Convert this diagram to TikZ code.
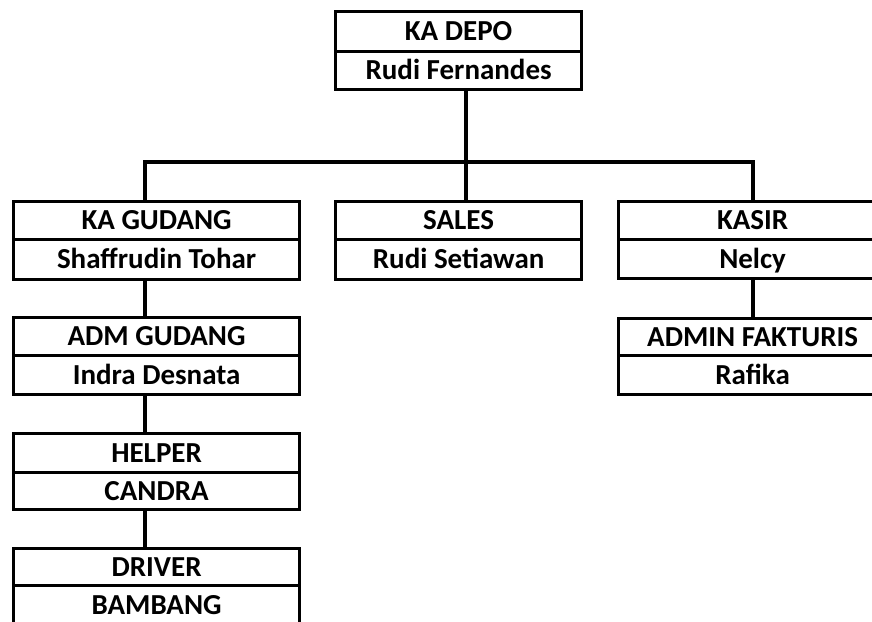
\documentclass[tikz,border=0pt]{standalone}
\usepackage{fontspec}
\setmainfont{Carlito}
\begin{document}
\begin{tikzpicture}[x=1pt,y=-1pt,
  cell/.style={draw=black, line width=3.2pt, inner sep=0pt, anchor=north west,
    text height=20pt, text depth=2pt,
    font=\fontsize{29}{32}\selectfont\bfseries, text=black},
  link/.style={draw=black, line width=3.2pt}]
\path[use as bounding box, clip] (0,0) rectangle (872,621);
\fill[white] (0,0) rectangle (872,621);

% KA DEPO
\node[cell, minimum width=246pt, minimum height=40pt] (depoT) at (334,10) {KA DEPO};
\node[cell, minimum width=246pt, minimum height=38pt] (depoB) at (334,50) {Rudi Fernandes};

% second level
\node[cell, minimum width=286pt, minimum height=38pt] (gudT) at (12,200) {KA GUDANG};
\node[cell, minimum width=286pt, minimum height=40pt] (gudB) at (12,238) {Shaffrudin Tohar};

\node[cell, minimum width=246pt, minimum height=38pt] (salT) at (334,200) {SALES};
\node[cell, minimum width=246pt, minimum height=40pt] (salB) at (334,238) {Rudi Setiawan};

\node[cell, minimum width=268pt, minimum height=38pt] (kasT) at (617,200) {KASIR};
\node[cell, minimum width=268pt, minimum height=39pt] (kasB) at (617,238) {Nelcy};

% warehouse chain
\node[cell, minimum width=286pt, minimum height=38pt] (admT) at (12,316) {ADM GUDANG};
\node[cell, minimum width=286pt, minimum height=39pt] (admB) at (12,354) {Indra Desnata};

\node[cell, minimum width=286pt, minimum height=39pt] (helT) at (12,432) {HELPER};
\node[cell, minimum width=286pt, minimum height=37pt] (helB) at (12,471) {CANDRA};

\node[cell, minimum width=286pt, minimum height=37pt] (drvT) at (12,547) {DRIVER};
\node[cell, minimum width=286pt, minimum height=40pt] (drvB) at (12,584) {BAMBANG};

% cashier chain
\node[cell, minimum width=268pt, minimum height=37pt] (fakT) at (617,317) {ADMIN FAKTURIS};
\node[cell, minimum width=268pt, minimum height=39pt] (fakB) at (617,354) {Rafika};

% trunk lines of the connectors
\coordinate (trunkL) at (145,162);
\coordinate (trunkM) at (466,162);
\coordinate (trunkR) at (753,162);

\draw[link] (depoB.south -| trunkM) -- (trunkM);
\draw[link] (gudT.north -| trunkL) -- (trunkL) -- (trunkR) -- (kasT.north -| trunkR);
\draw[link] (salT.north -| trunkM) -- (trunkM);
\draw[link] (gudB.south -| trunkL) -- (admT.north -| trunkL);
\draw[link] (admB.south -| trunkL) -- (helT.north -| trunkL);
\draw[link] (helB.south -| trunkL) -- (drvT.north -| trunkL);
\draw[link] (kasB.south -| trunkR) -- (fakT.north -| trunkR);
\end{tikzpicture}
\end{document}
